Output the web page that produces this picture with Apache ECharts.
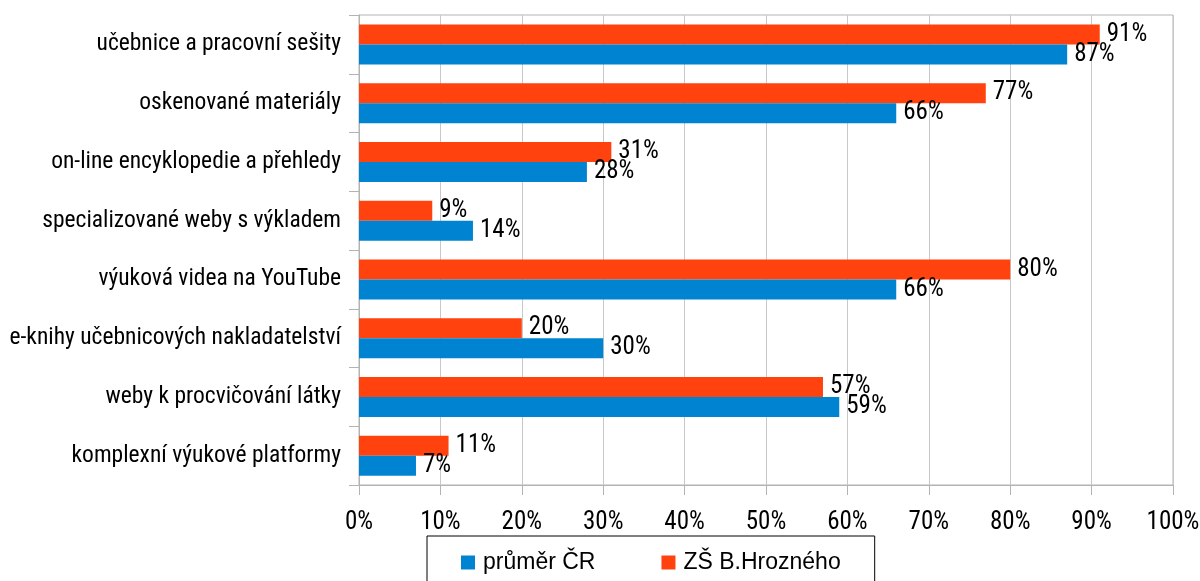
<!DOCTYPE html>
<html>
<head>
<meta charset="utf-8">
<title>Zdroje výuky</title>
<script src="https://cdn.jsdelivr.net/npm/echarts@6/dist/echarts.min.js"></script>
<style>
  html, body { margin: 0; padding: 0; background: #fff; }
  #chart { width: 1200px; height: 581px; }
</style>
</head>
<body>
<div id="chart"></div>
<script>
// Categories, top to bottom
const categories = [
  'učebnice a pracovní sešity',
  'oskenované materiály',
  'on-line encyklopedie a přehledy',
  'specializované weby s výkladem',
  'výuková videa na YouTube',
  'e-knihy učebnicových nakladatelství',
  'weby k procvičování látky',
  'komplexní výukové platformy'
];

// Share of teachers (%)
const prumerCR = [87, 66, 28, 14, 66, 30, 59, 7];
const zsHrozneho = [91, 77, 31, 9, 80, 20, 57, 11];

const xTicks = { min: 0, max: 100, interval: 10 };

const narrow = '"Roboto Condensed", "DejaVu Sans Condensed", sans-serif';
const gridGray = '#b3b3b3';

const chart = echarts.init(document.getElementById('chart'), null, { renderer: 'canvas' });

const labelStyle = {
  show: true,
  position: 'right',
  distance: 7,
  formatter: '{c}%',
  fontFamily: narrow,
  fontSize: 25,
  color: '#000'
};

chart.setOption({
  animation: false,
  grid: {
    left: 359, right: 27, top: 15, bottom: 96,
    containLabel: false,
    outerBoundsMode: 'none',
    show: true, borderColor: gridGray, borderWidth: 1
  },
  legend: {
    data: ['průměr ČR', 'ZŠ B.Hrozného'],
    left: 427, top: 536,
    padding: [15, 34, 30, 34],
    borderColor: '#000', borderWidth: 1,
    itemWidth: 14, itemHeight: 14, itemGap: 66,
    icon: 'rect',
    textStyle: { fontFamily: '"Liberation Sans", Arial, sans-serif', fontSize: 23, color: '#000', padding: [0, 0, 0, 3] }
  },
  xAxis: {
    type: 'value',
    min: xTicks.min, max: xTicks.max, interval: xTicks.interval,
    axisLine: { show: true, lineStyle: { color: gridGray } },
    axisTick: { show: true, length: 10, lineStyle: { color: gridGray } },
    splitLine: { show: true, lineStyle: { color: '#c8c8c8' } },
    axisLabel: {
      formatter: '{value}%',
      fontFamily: narrow, fontSize: 25, color: '#000', margin: 25
    }
  },
  yAxis: {
    type: 'category',
    inverse: true,
    data: categories,
    axisLine: { show: true, lineStyle: { color: gridGray } },
    axisTick: { show: true, length: 10, lineStyle: { color: gridGray } },
    axisLabel: {
      fontFamily: narrow, fontSize: 23.5, color: '#000', margin: 18,
      padding: [7, 0, 0, 0]
    }
  },
  series: [
    {
      name: 'ZŠ B.Hrozného',
      type: 'bar',
      data: zsHrozneho,
      barWidth: 20,
      barGap: '0%',
      itemStyle: { color: '#ff420e' },
      label: labelStyle
    },
    {
      name: 'průměr ČR',
      type: 'bar',
      data: prumerCR,
      barWidth: 20,
      barGap: '0%',
      itemStyle: { color: '#0084d1' },
      label: labelStyle
    }
  ]
});
</script>
</body>
</html>
